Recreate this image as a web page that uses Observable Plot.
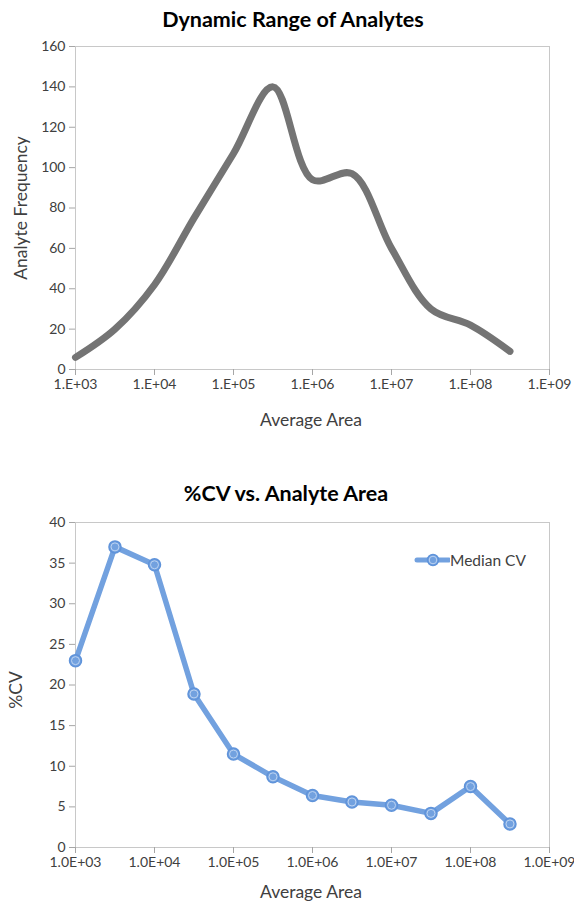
<!DOCTYPE html>
<html>
<head>
<meta charset="utf-8">
<script src="https://cdn.jsdelivr.net/npm/d3@7"></script>
<script src="https://cdn.jsdelivr.net/npm/@observablehq/plot@0.6"></script>
<style>
  html, body { margin: 0; padding: 0; background: #fff; }
  body { width: 574px; height: 902px; position: relative; overflow: hidden; font-family: Lato, "Open Sans", sans-serif; color: #404040; }
  .abs { position: absolute; white-space: nowrap; }
  .title { font-weight: bold; font-size: 21.5px; color: #000; transform: translateX(-50%); }
  .axt { font-size: 17.5px; color: #404040; }
  .rot { transform: translate(-50%, -50%) rotate(-90deg); }
  .ctr { transform: translateX(-50%); }
</style>
</head>
<body>
<div id="top" class="abs" style="left:0;top:0"></div>
<div id="bot" class="abs" style="left:0;top:450px"></div>

<div class="abs title" style="left:293px;top:6px">Dynamic Range of Analytes</div>
<div class="abs axt rot" style="left:20px;top:208px">Analyte Frequency</div>
<div class="abs axt ctr" style="left:311px;top:409px">Average Area</div>

<div class="abs title" style="left:286px;top:480px">%CV vs. Analyte Area</div>
<div class="abs axt rot" style="left:15px;top:690px">%CV</div>
<div class="abs axt ctr" style="left:311px;top:881px">Average Area</div>

<div id="legend" class="abs" style="left:414px;top:550px;font-size:15.5px;color:#404040;display:flex;align-items:center">
  <svg width="36" height="20"><line x1="3" y1="10" x2="35" y2="10" stroke="#72a1df" stroke-width="5" stroke-linecap="round"/><circle cx="19" cy="10" r="5.5" fill="#72a1df" stroke="#5f93da" stroke-width="1.5"/><circle cx="19" cy="10" r="3.8" fill="none" stroke="#bcd3f2" stroke-width="1"/></svg>
  <span>Median CV</span>
</div>

<script>
// ---- data ----
const areaTicks = [1e3, 1e4, 1e5, 1e6, 1e7, 1e8, 1e9];
const areaPoints = [1e3, 3.16e3, 1e4, 3.16e4, 1e5, 3.16e5, 1e6, 3.16e6, 1e7, 3.16e7, 1e8, 3.16e8];
const analyteFreq = [6, 20, 42, 75, 107, 140, 94, 97, 60, 30, 22, 9];
const medianCV = [23, 37, 34.8, 18.9, 11.5, 8.7, 6.4, 5.6, 5.2, 4.2, 7.5, 2.9];
const freqTicks = [0, 20, 40, 60, 80, 100, 120, 140, 160];
const cvTicks = [0, 5, 10, 15, 20, 25, 30, 35, 40];

const freqData = areaPoints.map((a, i) => ({area: a, freq: analyteFreq[i]}));
const cvData = areaPoints.map((a, i) => ({area: a, cv: medianCV[i]}));

const exp = d => String(Math.round(Math.log10(d))).padStart(2, "0");
const fmtTop = d => "1.E+" + exp(d);
const fmtBot = d => "1.0E+" + exp(d);

const common = {
  width: 574,
  marginLeft: 75,
  marginRight: 25,
  style: {fontFamily: "Lato, 'Open Sans', sans-serif", fontSize: "14px", color: "#404040", background: "transparent", overflow: "visible"}
};

const topPlot = Plot.plot({
  ...common,
  height: 440,
  marginTop: 46,
  marginBottom: 71,
  x: {type: "log", domain: [1e3, 1e9]},
  y: {domain: [0, 160]},
  marks: [
    Plot.frame({stroke: "#c8c8c8"}),
    Plot.axisX({ticks: areaTicks, tickFormat: fmtTop, tickSize: 6, tickPadding: 4, stroke: "#a6a6a6", fill: "#404040", label: null}),
    Plot.axisY({ticks: freqTicks, tickSize: 6, tickPadding: 4, stroke: "#a6a6a6", fill: "#404040", label: null}),
    Plot.line(freqData, {x: "area", y: "freq", curve: "catmull-rom", stroke: "#747474", strokeWidth: 7, strokeLinecap: "round", strokeLinejoin: "round"})
  ]
});
document.getElementById("top").appendChild(topPlot);

const botPlot = Plot.plot({
  ...common,
  height: 452,
  marginTop: 72,
  marginBottom: 55,
  x: {type: "log", domain: [1e3, 1e9]},
  y: {domain: [0, 40]},
  marks: [
    Plot.frame({stroke: "#c8c8c8"}),
    Plot.axisX({ticks: areaTicks, tickFormat: fmtBot, tickSize: 6, tickPadding: 4, stroke: "#a6a6a6", fill: "#404040", label: null}),
    Plot.axisY({ticks: cvTicks, tickSize: 6, tickPadding: 4, stroke: "#a6a6a6", fill: "#404040", label: null}),
    Plot.line(cvData, {x: "area", y: "cv", stroke: "#72a1df", strokeWidth: 5.5, strokeLinejoin: "round", strokeLinecap: "round"}),
    Plot.dot(cvData, {x: "area", y: "cv", r: 6, fill: "#72a1df", stroke: "#5f93da", strokeWidth: 1.5}),
    Plot.dot(cvData, {x: "area", y: "cv", r: 4, fill: "none", stroke: "#bcd3f2", strokeWidth: 1})
  ]
});
document.getElementById("bot").appendChild(botPlot);
</script>
</body>
</html>
